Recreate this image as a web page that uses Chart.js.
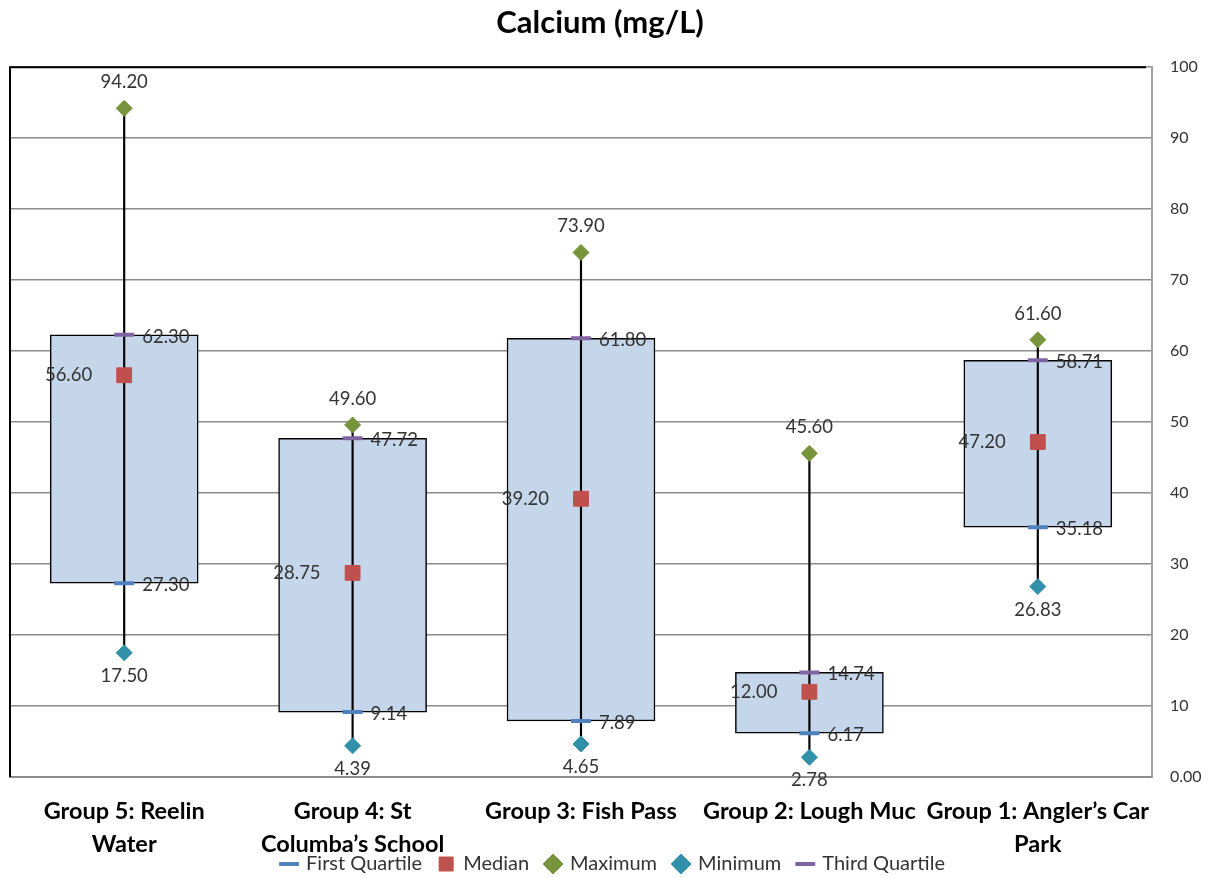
<!DOCTYPE html>
<html>
<head>
<meta charset="utf-8">
<script src="https://cdn.jsdelivr.net/npm/chart.js@4"></script>
<style>
  html, body { margin: 0; padding: 0; background: #fff; }
  #wrap { width: 1217px; height: 878px; }
</style>
</head>
<body>
<div id="wrap"><canvas id="chart" width="1217" height="878"></canvas></div>
<script>
const categories = [
  ['Group 5: Reelin', 'Water'],
  ['Group 4: St', 'Columba’s School'],
  'Group 3: Fish Pass',
  'Group 2: Lough Muc',
  ['Group 1: Angler’s Car', 'Park'],
];

const firstQuartile = [27.30, 9.14, 7.89, 6.17, 35.18];
const median = [56.60, 28.75, 39.20, 12.00, 47.20];
const maximum = [94.20, 49.60, 73.90, 45.60, 61.60];
const minimum = [17.50, 4.39, 4.65, 2.78, 26.83];
const thirdQuartile = [62.30, 47.72, 61.80, 14.74, 58.71];

const textColor = '#333333';
const font = 'Lato';

// boxes go from Q1 to Q3, whiskers from min to max
const boxes = firstQuartile.map((q1, i) => [q1, thirdQuartile[i]]);
const whiskers = minimum.map((lo, i) => [lo, maximum[i]]);

const markerSet = (label, data, style, color, radius, width) => ({
  type: 'line',
  label: label,
  data: data,
  showLine: false,
  order: 0,
  pointStyle: style,
  pointRadius: radius,
  pointHoverRadius: radius,
  pointBackgroundColor: color,
  pointBorderColor: color,
  pointBorderWidth: width,
  backgroundColor: color,
  borderColor: color,
});

// draws the value next to each marker
const valueLabels = {
  id: 'valueLabels',
  afterDatasetsDraw(chart) {
    const ctx = chart.ctx;
    ctx.save();
    ctx.font = '18.5px ' + font;
    ctx.fillStyle = textColor;
    ctx.textBaseline = 'middle';
    chart.data.datasets.forEach((ds, di) => {
      if (ds.type !== 'line') return;
      const meta = chart.getDatasetMeta(di);
      meta.data.forEach((pt, i) => {
        const txt = ds.data[i].toFixed(2);
        if (ds.label === 'Maximum') {
          ctx.textAlign = 'center';
          ctx.fillText(txt, pt.x, pt.y - 26);
        } else if (ds.label === 'Minimum') {
          ctx.textAlign = 'center';
          ctx.fillText(txt, pt.x, pt.y + 23);
        } else if (ds.label === 'Median') {
          ctx.textAlign = 'right';
          ctx.fillText(txt, pt.x - 32, pt.y);
        } else {
          ctx.textAlign = 'left';
          ctx.fillText(txt, pt.x + 18, pt.y + 2);
        }
      });
    });
    ctx.restore();
  },
};

// black frame on the left and top of the plot
const frame = {
  id: 'frame',
  beforeDatasetsDraw(chart) {
    const a = chart.chartArea;
    const ctx = chart.ctx;
    ctx.save();
    ctx.strokeStyle = '#000';
    ctx.lineWidth = 2;
    ctx.beginPath();
    ctx.moveTo(a.left, a.bottom);
    ctx.lineTo(a.left, a.top);
    ctx.lineTo(a.right - 6, a.top);
    ctx.stroke();
    ctx.restore();
  },
};

// legend sits tight under the axis labels, title a bit left of centre
const nudge = {
  id: 'nudge',
  afterLayout(chart) {
    chart.legend.top -= 20;
    chart.legend.height += 20;
    chart.titleBlock.left -= 27;
    chart.titleBlock.width += 27;
  },
};

new Chart(document.getElementById('chart'), {
  type: 'bar',
  data: {
    labels: categories,
    datasets: [
      {
        label: 'Box',
        data: boxes,
        grouped: false,
        order: 2,
        barThickness: 148,
        backgroundColor: 'rgb(197, 214, 234)',
        borderColor: '#000',
        borderWidth: 1.5,
        borderSkipped: false,
      },
      {
        label: 'Whisker',
        data: whiskers,
        grouped: false,
        order: 1,
        barThickness: 1.5,
        backgroundColor: '#000',
        borderWidth: 0,
      },
      markerSet('First Quartile', firstQuartile, 'line', 'rgb(79, 129, 189)', 10, 4),
      markerSet('Median', median, 'rect', 'rgb(192, 80, 77)', 10.5, 1),
      markerSet('Maximum', maximum, 'rectRot', 'rgb(119, 147, 60)', 8, 1),
      markerSet('Minimum', minimum, 'rectRot', 'rgb(49, 144, 170)', 8, 1),
      markerSet('Third Quartile', thirdQuartile, 'line', 'rgb(128, 100, 162)', 10, 4),
    ],
  },
  options: {
    responsive: false,
    animation: false,
    layout: { autoPadding: false, padding: { left: 10, right: 0, top: 0, bottom: 0 } },
    plugins: {
      title: {
        display: true,
        text: 'Calcium (mg/L)',
        color: '#000',
        font: { family: font, size: 31, weight: 'bold' },
        padding: { top: 4, bottom: 26 },
      },
      legend: {
        position: 'bottom',
        maxHeight: 21,
        labels: {
          usePointStyle: true,
          boxWidth: 14,
          boxHeight: 14,
          color: textColor,
          font: { family: font, size: 20 },
          padding: 17,
          filter: (item) => item.text !== 'Box' && item.text !== 'Whisker',
        },
      },
      tooltip: { enabled: false },
    },
    scales: {
      x: {
        grid: { display: false, drawTicks: false },
        border: { color: '#8c8c8c', width: 2 },
        ticks: {
          color: '#000',
          font: { family: font, size: 23.5, weight: 'bold', lineHeight: 1.4 },
          maxRotation: 0,
          autoSkip: false,
          padding: 18,
        },
        afterFit(scale) {
          scale.height = 80;
          scale.paddingLeft = 0;
          scale.paddingRight = 0;
        },
      },
      y: {
        position: 'right',
        min: 0,
        max: 100,
        grid: { color: '#8c8c8c', lineWidth: 1.5, drawTicks: false },
        border: { color: '#a0a0a0', width: 2 },
        ticks: {
          stepSize: 10,
          color: textColor,
          font: { family: font, size: 16 },
          padding: 18,
          callback: (v) => (v === 0 ? '0.00' : v),
        },
        afterFit(scale) { scale.width = 65; },
      },
    },
  },
  plugins: [frame, valueLabels, nudge],
});
</script>
</body>
</html>
